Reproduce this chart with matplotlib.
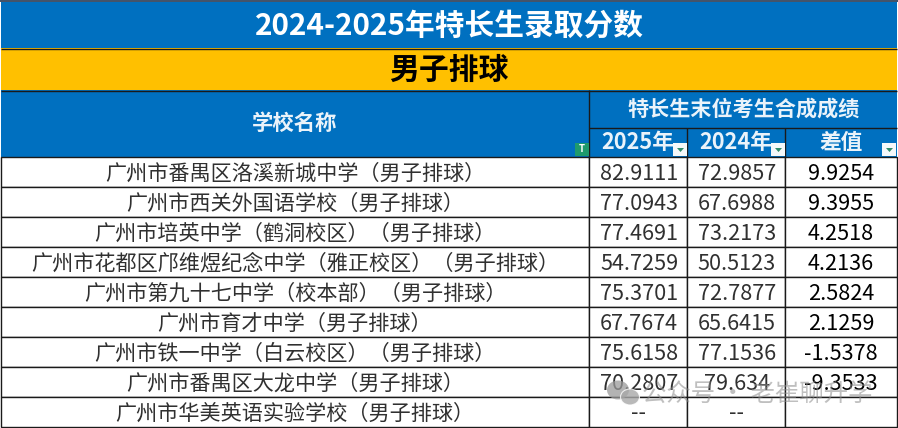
import matplotlib.pyplot as plt
from matplotlib.patches import Ellipse, Rectangle, Polygon

plt.rcParams['font.family'] = ['Noto Sans CJK SC', 'DejaVu Sans']

title = "2024-2025年特长生录取分数"
subtitle = "男子排球"
school_header = "学校名称"
score_header = "特长生末位考生合成成绩"
col_headers = ["2025年", "2024年", "差值"]
schools = [
    "广州市番禺区洛溪新城中学（男子排球）",
    "广州市西关外国语学校（男子排球）",
    "广州市培英中学（鹤洞校区）（男子排球）",
    "广州市花都区邝维煜纪念中学（雅正校区）（男子排球）",
    "广州市第九十七中学（校本部）（男子排球）",
    "广州市育才中学（男子排球）",
    "广州市铁一中学（白云校区）（男子排球）",
    "广州市番禺区大龙中学（男子排球）",
    "广州市华美英语实验学校（男子排球）",
]
score_2025 = ["82.9111", "77.0943", "77.4691", "54.7259", "75.3701", "67.7674", "75.6158", "70.2807", "--"]
score_2024 = ["72.9857", "67.6988", "73.2173", "50.5123", "72.7877", "65.6415", "77.1536", "79.634", "--"]
diffs = ["9.9254", "9.3955", "4.2518", "4.2136", "2.5824", "2.1259", "-1.5378", "-9.3533", ""]

BLUE = "#0070c0"
YELLOW = "#ffc000"
HEAD = "#eaf3fa"
W, H = 898, 428

# column and row edges, in pixels
col_x = [1, 589, 687, 785, 897]
row_y0 = 157
row_h = 30

fig = plt.figure(figsize=(W / 100, H / 100), dpi=100)
ax = fig.add_axes([0, 0, 1, 1])
ax.set_xlim(0, W)
ax.set_ylim(H, 0)
ax.axis("off")


def box(x0, y0, x1, y1, color, lw=1.0):
    ax.add_patch(Rectangle((x0, y0), x1 - x0, y1 - y0, facecolor=color, edgecolor="#1a1a1a", linewidth=lw))


def filter_btn(x, y):
    # little white dropdown button with a green arrow
    ax.add_patch(Rectangle((x, y), 14, 13, facecolor="#f4f8fa", edgecolor="none", zorder=3))
    ax.add_patch(Polygon([(x + 4, y + 5), (x + 11, y + 5), (x + 7.5, y + 9)], facecolor="#2e8b6a", edgecolor="none", zorder=4))


ax.add_patch(Rectangle((0, 0), W, H, facecolor="white", edgecolor="none"))
ax.add_patch(Rectangle((col_x[0], 2), col_x[-1] - col_x[0], 46, facecolor=BLUE, edgecolor="none"))
ax.add_patch(Rectangle((col_x[0], 48), col_x[-1] - col_x[0], 42, facecolor=YELLOW, edgecolor="none"))
ax.add_patch(Rectangle((col_x[0], 90), col_x[1] - col_x[0], row_y0 - 90, facecolor=BLUE, edgecolor="none"))
ax.add_patch(Rectangle((col_x[1], 90), col_x[-1] - col_x[1], row_y0 - 90, facecolor=BLUE, edgecolor="none"))
ax.add_patch(Rectangle((0, 0), W, 2, facecolor="#44546a", edgecolor="none"))
ax.hlines([48.5, 90.5], col_x[0], col_x[-1], color="#1a1a1a", linewidth=1.0)
ax.hlines(128, col_x[1], col_x[-1], color="#1a1a1a", linewidth=1.0)
ax.vlines(col_x[1], 90, row_y0, color="#1a1a1a", linewidth=1.0)
ax.vlines(col_x[2:4], 128, row_y0, color="#1a1a1a", linewidth=1.0)

ax.text(449, 25.5, title, color="white", fontsize=21.4, fontweight="bold", ha="center", va="center")
ax.text(449, 70, subtitle, color="black", fontsize=21.5, fontweight="bold", ha="center", va="center")
ax.text(295, 123.5, school_header, color=HEAD, fontsize=15.4, fontweight="bold", ha="center", va="center")
ax.text(744, 109, score_header, color=HEAD, fontsize=15.2, fontweight="bold", ha="center", va="center")
ax.text(638, 142.5, col_headers[0], color=HEAD, fontsize=15.6, fontweight="bold", ha="center", va="center")
ax.text(736, 142.5, col_headers[1], color=HEAD, fontsize=15.6, fontweight="bold", ha="center", va="center")
ax.text(841, 142.5, col_headers[2], color=HEAD, fontsize=15.6, fontweight="bold", ha="center", va="center")

# filter buttons
ax.add_patch(Rectangle((575, 143), 14, 13, facecolor="#1f9a6c", edgecolor="none", zorder=3))
ax.text(582, 149.5, "T", color="white", fontsize=7, fontweight="bold", ha="center", va="center", zorder=4)
filter_btn(673, 143)
filter_btn(771, 143)
filter_btn(882, 143)

for i, name in enumerate(schools):
    y0 = row_y0 + i * row_h
    y1 = y0 + row_h
    box(col_x[0], y0, col_x[1], y1, "white")
    for j in range(3):
        box(col_x[j + 1], y0, col_x[j + 2], y1, "white")
    yc = (y0 + y1) / 2 + 1.5
    ax.text((col_x[0] + col_x[1]) / 2, yc, name, color="#303030", fontsize=15.2, ha="center", va="center")
    ax.text((col_x[1] + col_x[2]) / 2 + 1, yc, score_2025[i], color="#303030", fontsize=15.6, ha="center", va="center")
    ax.text((col_x[2] + col_x[3]) / 2 + 1, yc, score_2024[i], color="#303030", fontsize=15.6, ha="center", va="center")
    ax.text((col_x[3] + col_x[4]) / 2, yc, diffs[i], color="black", fontsize=15.6, ha="center", va="center")

# watermark
ax.add_patch(Ellipse((618, 390), 22, 19, facecolor="#9a9a9a", edgecolor="none", alpha=0.75, zorder=5))
ax.add_patch(Ellipse((630, 397), 19, 16, facecolor="#a8a8a8", edgecolor="white", linewidth=0.8, alpha=0.8, zorder=5))
ax.text(757, 394, "公众号 · 老崔聊升学", color="#8c8c8c", alpha=0.55, fontsize=17.6, ha="center", va="center", zorder=5)

fig.savefig("out.png", dpi=100)
